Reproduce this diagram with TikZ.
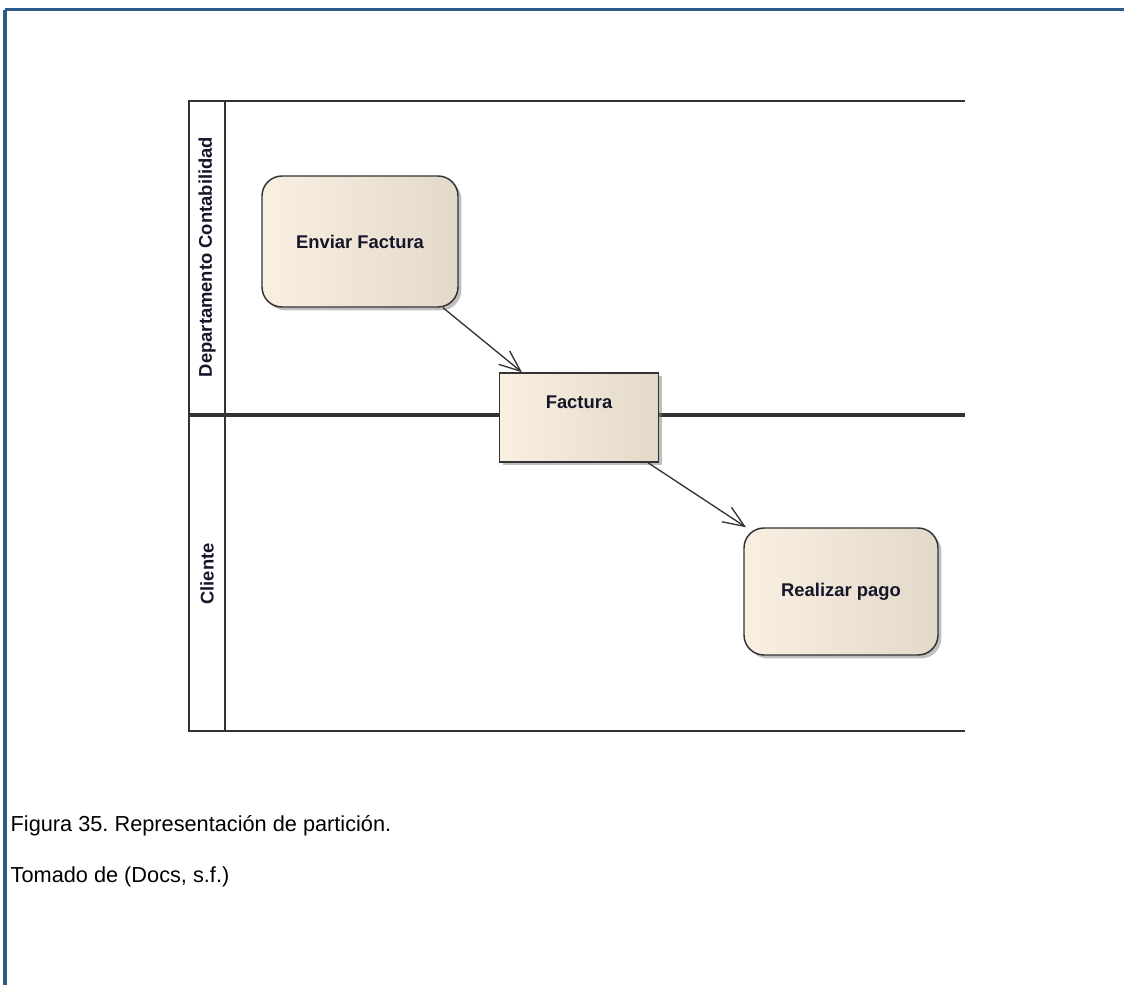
\documentclass[tikz,border=0pt]{standalone}
\usepackage{fontspec}
\setmainfont{Liberation Sans}
\usetikzlibrary{arrows.meta,shadows}
\frenchspacing

\definecolor{frameblue}{HTML}{2B5B8A}
\definecolor{boxleft}{HTML}{FAF0E2}
\definecolor{boxright}{HTML}{E3D9C9}
\definecolor{lanegray}{HTML}{333333}
\definecolor{labelink}{HTML}{16162A}

\tikzset{
  frameline/.style={draw=frameblue, line width=2.4pt},
  laneline/.style={draw=lanegray, line width=1.9pt},
  actbox/.style={draw=black!80, line width=1.1pt, rounded corners=15pt,
    left color=boxleft, right color=boxright,
    drop shadow={shadow xshift=2.5pt, shadow yshift=-2.5pt, fill=black!50, opacity=0.5},
    font=\bfseries\fontsize{13.8}{16}\selectfont, text=labelink},
  objbox/.style={draw=black!80, line width=1.1pt,
    left color=boxleft, right color=boxright,
    drop shadow={shadow xshift=2.5pt, shadow yshift=-2.5pt, fill=black!50, opacity=0.5},
    font=\bfseries\fontsize{13.8}{16}\selectfont, text=labelink},
  lanelabel/.style={rotate=90, font=\bfseries\fontsize{13.8}{16}\selectfont, text=labelink},
  flow/.style={draw=black!80, line width=1pt, -{Straight Barb[length=16pt, width=13pt, line width=1pt]}},
  caption/.style={anchor=west, font=\fontsize{16.3}{19}\selectfont, text=black}
}

\begin{document}
\begin{tikzpicture}[x=0.75pt, y=-0.75pt]
  \useasboundingbox (0,0) rectangle (1124,985);

  % page frame (top and left edges)
  \draw[frameline] (5,9.5) -- (1124,9.5);
  \draw[frameline] (5,9.5) -- (5,985);

  % swimlane partition
  \draw[laneline] (965,101) -- (189,101) -- (189,731) -- (965,731);
  \draw[laneline] (225,101) -- (225,731);
  \draw[laneline, line width=2.3pt] (189,415) -- (965,415);

  \node[lanelabel] (lane1) at (207,257) {Departamento Contabilidad};
  \node[lanelabel] (lane2) at (207,574) {Cliente};

  % activities and object
  \node[actbox, minimum width=147pt, minimum height=98.25pt] (ef) at (360,241.5) {Enviar Factura};
  \node[objbox, minimum width=119.25pt, minimum height=66.75pt,
        text height=10.5pt, text depth=24.5pt] (fa) at (579,417.5) {Factura};
  \node[actbox, minimum width=145.5pt, minimum height=95.25pt] (rp) at (841,591.5) {Realizar pago};

  % object flows
  \draw[flow] ([xshift=62.25pt]ef.south) -- ([xshift=-42.75pt]fa.north);
  \draw[flow] ([xshift=51.75pt]fa.south) -- ([xshift=-71.25pt]rp.north);

  % caption
  \node[caption] (cap1) at (6,826) {Figura 35. Representación de partición.};
  \node[caption] (cap2) at (6,877) {Tomado de (Docs, s.f.)};
\end{tikzpicture}
\end{document}
